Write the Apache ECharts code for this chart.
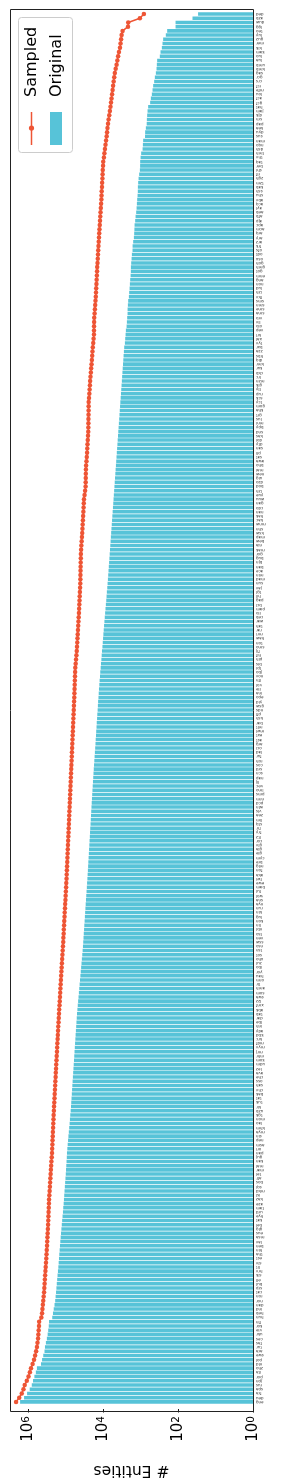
<!DOCTYPE html>
<html><head><meta charset="utf-8">
<script src="https://cdn.jsdelivr.net/npm/echarts@6/dist/echarts.min.js"></script>
<style>html,body{margin:0;padding:0;background:#fff}#c{width:284px;height:1483px}</style>
</head><body><div id="c"></div><script>
// categories, ordered from largest (bottom) to smallest (top)
const categories = ("eng deu fra spa rus jpn por ita zho nld " +
"pol swe ara tur fas ces ukr vie kor fin " +
"hun heb ind dan nor ron cat srp bul ell " +
"slk hrv lit slv est tha hin ben lav msa " +
"eus glg bel kat hye urd tam aze kaz isl " +
"mkd sqi bos afr tel mar mal kan guj pan " +
"ori asm nep sin mya khm lao mon tgk uzb " +
"kir tuk tat bak chv sah oss che ava lez " +
"udm kom mhr mrj myv mdf krc kbd ady inh " +
"lbe dar tab abk xmf lzz swa som amh tir " +
"orm hau yor ibo zul xho sot tsn nso ssw " +
"ven tso nbl lin kon lug kin run nya sna " +
"wol ful bam ewe twi aka fon mlg bre cym " +
"gle gla glv cor ltz fry frr stq lim zea " +
"vls wln pcd nrm pms lmo vec lij nap scn " +
"srd cos roh fur lad oci arg ast ext mwl " +
"mlt bar ksh pfl nds gsw yid epo ina ile " +
"vol lfn nov jbo tpi bis pih hif fij smo " +
"ton haw mri rar tah war ceb ilo pam bcl " +
"pag hil tgl jav sun mad min ace ban bjn " +
"bug gor mak nia bew map ksw shn mnw kac " +
"hak nan cdo gan wuu yue lzh bod dzo uig " +
"new mai bho awa sat pli san dty doi kas " +
"snd bpy mni lus grt kha gom tcy sck rup " +
"tly glk mzn lrc ckb kur kmr diq hbs zza " +
"bxr tyv xal krl vep olo liv vro sma sme " +
"smn sms fkv izh lud non ang enm got gmh " +
"goh osx odt ofs frk arz ary arq acm apc " +
"ajp afb aeb ayl acq abv shu ssh kab tzm " +
"zgh rif shi ber taq thv tmh dsh nqo man " +
"sus dyu kea pap srn djk jam hat gcf acf " +
"lou mfe rcf crs gcr sag kmb umb lua luo " +
"kam kik mer guz luy teo lgg duw azb ded").split(' ');

// "Original" counts (bars)
const originalValues = [
1660000,1300000,1080000,920000,810000,750000,690000,630000,590000,460000,
430000,400000,370000,360000,340000,320000,305000,295000,285000,280000,
230000,220000,210000,200000,192000,187000,182000,178000,174000,170000,
166000,162000,158000,155000,152000,149000,146000,143000,140000,137000,
134000,131000,128000,125000,122000,119000,117000,114000,112000,110000,
108000,106000,104000,102000,100000,98500,97000,95500,94000,93000,
91000,89000,87000,85000,83000,81000,79000,77500,76000,74000,
72600,71400,70200,69000,67900,66800,65700,64600,63500,62400,
61400,60400,59400,58400,57400,56500,55500,54600,53700,52800,
51900,51000,50200,49000,47900,46800,45700,44700,43700,42700,
41700,40700,39800,38900,38000,37200,36300,35500,34800,34200,
33600,33100,32500,32000,31400,30900,30400,29900,29400,28900,
28400,27900,27400,27000,26500,26100,25700,25300,25000,24600,
24200,23900,23500,23200,22800,22500,22200,21800,21500,21200,
20900,20600,20300,20000,19700,19400,19100,18800,18500,18200,
17900,17600,17300,17000,16700,16400,16100,15900,15600,15400,
15100,14900,14600,14400,14100,13900,13700,13400,13200,13000,
12700,12500,12200,12000,11700,11500,11200,11000,10800,10500,
10300,10100,9900,9700,9500,9300,9100,8900,8700,8500,
8300,8150,8000,7800,7650,7500,7360,7230,7100,6970,
6840,6720,6600,6480,6360,6250,6140,6030,5920,5810,
5710,5600,5500,5400,5300,5210,5110,5020,4930,4840,
4750,4670,4580,4500,4420,4340,4260,4180,4110,4030,
3960,3890,3820,3750,3680,3620,3550,3490,3420,3360,
3300,3240,3180,3130,3070,3020,2960,2910,2860,2805,
2754,2637,2589,2529,2483,2377,2334,2291,2240,2236,
2195,2155,2065,2027,1977,1941,1905,1858,1830,1824,
1791,1749,1717,1650,1644,1585,1518,1490,1470,1455,
1403,1368,1318,1285,1262,1240,1211,1192,1188,1166,
1138,1096,1050,1035,1031,1006,970,889,873,858,
765,759,727,690,684,671,655,631,558,535,
503,482,464,436,418,393,377,370,363,308,
295,272,261,251,213,196,117,117,41.3,29.3];

// "Sampled" counts (line)
const sampledValues = [
2130000,1750000,1500000,1350000,1250000,1100000,990000,910000,850000,770000,
705000,660000,620000,590000,570000,550000,540000,530000,520000,515000,
450000,430000,420000,410000,400000,390000,380000,374000,368000,362000,
356000,350000,344000,338000,332000,327000,322000,317000,313000,309000,
305000,301000,297000,294000,291000,288000,285000,282000,280000,275000,
270000,266000,262000,258000,254000,250000,246000,242000,237000,233000,
231000,228000,226000,223000,221000,218000,216000,213000,211000,208000,
206000,203000,200000,198000,195000,192000,190000,187000,185000,182000,
180000,177000,175000,172000,170000,168000,165000,163000,161000,159000,
156000,154000,152000,150000,147000,145000,143000,141000,139000,137000,
135000,133000,131000,129000,127000,125000,123000,121000,119000,117000,
116000,114000,113000,111000,110000,108000,107000,105000,104000,102000,
101000,99500,98000,97000,95500,94600,93500,92500,91500,90500,
89500,88500,87500,86500,85500,84500,83600,82700,81800,80900,
80000,79100,78200,77400,76500,75700,74800,74000,73200,72400,
71600,70800,70000,69200,68500,67700,67000,66200,65500,64800,
64100,63400,62700,62000,61300,60700,60000,59300,58800,58300,
57800,57300,56800,56300,55800,54500,53300,52000,51000,50200,
49400,48700,48000,47300,46600,45900,45200,44500,44000,43500,
43000,42500,42000,41500,41000,40800,40600,40400,40200,40000,
39700,39500,39000,38400,37700,37000,36400,35900,35400,34900,
34400,33900,33500,33100,32700,31500,30500,29600,29400,29300,
29200,29000,28700,28000,27500,27000,26700,26300,25900,25500,
25100,25000,24900,24800,24700,24600,24550,24500,24000,23500,
23100,22700,22400,21900,21400,21000,20500,20100,19700,19400,
19000,18500,18100,17700,17650,17600,17500,17400,17000,16700,
16400,16100,15800,15600,15400,15200,15000,14800,14600,14500,
14200,14000,13800,13600,13400,13200,13000,12800,12600,12400,
12200,12000,11800,11600,11400,11200,11100,11000,10800,10700,
10500,10400,10300,10100,10000,9600,9300,9000,8700,8400,
8100,7900,7700,7450,7200,6900,6650,6400,6200,6000,
5800,5620,5450,5270,5080,4900,4650,4400,4200,4000,
3800,3570,3450,3330,3230,3040,2180,2150,1050,822];

const valueTicks = [1, 100, 10000, 1000000];
const axisMax = 3090000;

const BAR = '#57c3d8', RED = '#ee5535', FONT = 'DejaVu Sans';
const chart = echarts.init(document.getElementById('c'), null, {renderer: 'canvas'});
chart.setOption({
  animation: false,
  backgroundColor: '#fff',
  grid: {left: 10, right: 31, top: 11.9, bottom: 76.9},
  xAxis: {
    type: 'log', logBase: 10, inverse: true, min: 1, max: axisMax, offset: 5,
    axisLine: {show: false}, splitLine: {show: false},
    axisTick: {show: true, length: 3.5, customValues: valueTicks, lineStyle: {color: '#000', width: 0.9}},
    axisLabel: {
      customValues: valueTicks, rotate: 90, margin: 7,
      formatter: v => '{b|10}{s|' + Math.round(Math.log10(v)) + '}',
      rich: {b: {fontSize: 15, fontFamily: FONT, color: '#000'},
             s: {fontSize: 10.5, fontFamily: FONT, color: '#000', verticalAlign: 'top'}}
    },
    name: '# Entities', nameLocation: 'middle', nameRotate: 180, nameGap: 53,
    nameTextStyle: {fontSize: 15.5, fontFamily: FONT, color: '#000'}
  },
  yAxis: {
    type: 'category', data: categories.slice(0, originalValues.length), position: 'right',
    axisLine: {show: false}, splitLine: {show: false},
    axisTick: {alignWithLabel: true, length: 3, lineStyle: {color: '#000', width: 0.8}},
    axisLabel: {interval: 0, fontSize: 4, fontFamily: FONT, color: '#333', rotate: 180, margin: 3}
  },
  series: [
    {type: 'bar', name: 'Original', data: originalValues, barCategoryGap: '16%',
     itemStyle: {color: BAR}, z: 2},
    {type: 'line', name: 'Sampled', data: sampledValues, symbol: 'circle', symbolSize: 4.5,
     showAllSymbol: true, lineStyle: {color: RED, width: 1.5}, itemStyle: {color: RED}, z: 3}
  ],
  graphic: [
    {type: 'rect', z: 10, shape: {x: 10.5, y: 9.5, width: 243, height: 1402},
     style: {fill: 'none', stroke: '#222', lineWidth: 1}},
    {type: 'rect', z: 11, shape: {x: 18.5, y: 17.5, width: 54, height: 135, r: 3},
     style: {fill: 'rgba(255,255,255,0.85)', stroke: '#cccccc', lineWidth: 1}},
    {type: 'text', z: 12, x: 32, y: 97, rotation: Math.PI / 2,
     style: {text: 'Sampled', fontSize: 16, fontFamily: FONT, fill: '#000', align: 'left', verticalAlign: 'middle'}},
    {type: 'text', z: 12, x: 56.5, y: 97, rotation: Math.PI / 2,
     style: {text: 'Original', fontSize: 16, fontFamily: FONT, fill: '#000', align: 'left', verticalAlign: 'middle'}},
    {type: 'line', z: 12, shape: {x1: 31.5, y1: 112, x2: 31.5, y2: 145}, style: {stroke: RED, lineWidth: 1.5}},
    {type: 'circle', z: 12, shape: {cx: 31.5, cy: 128, r: 2.6}, style: {fill: RED}},
    {type: 'rect', z: 12, shape: {x: 50, y: 112, width: 12, height: 33}, style: {fill: BAR}}
  ]
});
</script></body></html>
